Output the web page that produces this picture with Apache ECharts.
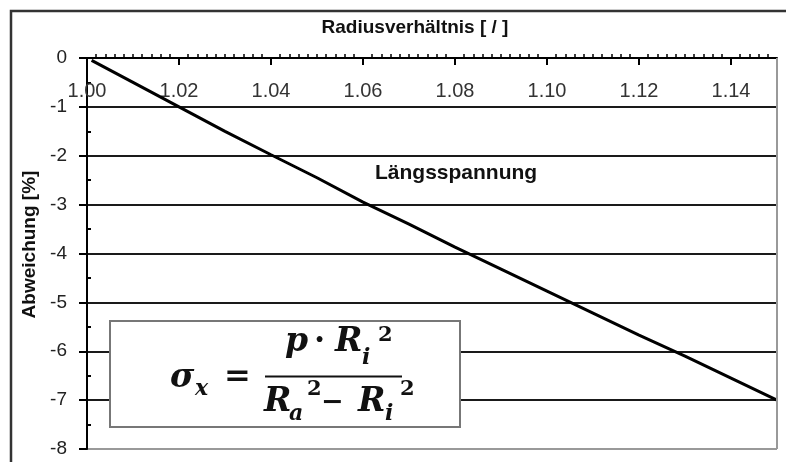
<!DOCTYPE html>
<html><head><meta charset="utf-8">
<script src="https://cdn.jsdelivr.net/npm/echarts@6/dist/echarts.min.js"></script>
<style>html,body{margin:0;padding:0;background:#fff}#c{width:786px;height:462px}</style>
</head><body><div id="c"></div>
<script>
// ---- data ----
const radiusRatio = [1.001, 1.01, 1.02, 1.03, 1.04, 1.05, 1.06, 1.07, 1.08, 1.09, 1.10, 1.11, 1.12, 1.13, 1.14, 1.15];
const deviation   = [-0.05, -0.5, -1.0, -1.5, -1.98, -2.45, -2.95, -3.4, -3.87, -4.32, -4.77, -5.22, -5.67, -6.1, -6.55, -7.0];
const xTickLabels = ['1.00','1.02','1.04','1.06','1.08','1.10','1.12','1.14'];
const yTickLabels = ['-8','-7','-6','-5','-4','-3','-2','-1','0'];
const xTitle = 'Radiusverhältnis [ / ]';
const yTitle = 'Abweichung [%]';
const seriesName = 'Längsspannung';

// ---- formula layout (text, left x, middle y, size, italic) ----
const formulaTokens = [
  ['σ',170,378,33,true], ['x',195,389,22,true], ['=',224,378,32,false],
  ['p',285,342,33,true], ['·',314,342,32,false], ['R',335,342,33,true], ['i',362,358,22,true], ['2',378,336,21,false],
  ['R',264,402,33,true], ['a',289,414,22,true], ['2',307,390,21,false], ['−',321,403,27,false],
  ['R',358,402,33,true], ['i',385,414,22,true], ['2',400,390,21,false]
];

const data = radiusRatio.map((x, i) => [x, deviation[i]]);
const sans = 'Liberation Sans, Arial, sans-serif';

const graphics = [
  {type:'rect', z:100, shape:{x:11,y:11,width:790,height:470}, style:{fill:'none', stroke:'#333', lineWidth:2.5}},
  {type:'rect', z:100, shape:{x:110,y:321,width:350,height:106}, style:{fill:'#fff', stroke:'#777', lineWidth:2}},
  {type:'line', z:101, shape:{x1:265,y1:376.5,x2:402,y2:376.5}, style:{stroke:'#111', lineWidth:2}},
  {type:'text', z:101, x:375, y:173, style:{text:seriesName, fontSize:21, fontWeight:'bold', fontFamily:sans, fill:'#111', align:'left', verticalAlign:'middle'}}
];
formulaTokens.forEach(t => {
  graphics.push({type:'text', z:101, x:t[1], y:t[2], style:{
    text:t[0], fontSize:t[3], fontWeight:'bold', fontStyle:t[4]?'italic':'normal',
    fontFamily:'DejaVu Serif, serif', fill:'#111', align:'left', verticalAlign:'middle'}});
});

const chart = echarts.init(document.getElementById('c'), null, {renderer:'canvas'});
chart.setOption({
  animation:false,
  backgroundColor:'#fff',
  grid:{left:87, right:9, top:58, bottom:13, containLabel:false},
  xAxis:{
    type:'value', position:'top', min:1.0, max:1.15, interval:0.02,
    name:xTitle, nameLocation:'middle', nameGap:21,
    nameTextStyle:{fontSize:19, fontWeight:'bold', fontFamily:sans, color:'#111', padding:[0,34,0,0]},
    axisLine:{show:true, onZero:false, lineStyle:{color:'#000', width:2}},
    axisTick:{show:true, inside:true, length:7, lineStyle:{color:'#000', width:2}},
    minorTick:{show:true, splitNumber:10, length:-4, lineStyle:{color:'#000', width:1.5}},
    axisLabel:{inside:true, margin:23, fontSize:20, fontFamily:sans, color:'#333', showMaxLabel:false,
      formatter:v => { const k = Math.round((v - 1.0) / 0.02); return xTickLabels[k] !== undefined && Math.abs(v - (1 + k*0.02)) < 1e-6 ? xTickLabels[k] : ''; }},
    splitLine:{show:false}
  },
  yAxis:{
    type:'value', min:-8, max:0, interval:1,
    name:yTitle, nameLocation:'middle', nameGap:46,
    nameTextStyle:{fontSize:19, fontWeight:'bold', fontFamily:sans, color:'#111', padding:[0,0,0,18]},
    axisLine:{show:true, onZero:false, lineStyle:{color:'#000', width:2}},
    axisTick:{show:true, inside:false, length:8, lineStyle:{color:'#000', width:2}},
    minorTick:{show:true, splitNumber:2, length:-4, lineStyle:{color:'#000', width:2}},
    axisLabel:{margin:20, fontSize:19, fontFamily:sans, color:'#222',
      formatter:v => yTickLabels[Math.round(v) + 8]},
    splitLine:{show:true, lineStyle:{color:['#999','#1a1a1a','#1a1a1a','#1a1a1a','#1a1a1a','#1a1a1a','#1a1a1a','#1a1a1a','#1a1a1a'], width:2}}
  },
  series:[{
    name:seriesName, type:'line', data:data, symbol:'none', smooth:false, z:5,
    lineStyle:{color:'#000', width:3}
  }],
  graphic:graphics
});
// right border of plot area
const p0 = chart.convertToPixel({gridIndex:0}, [1.15, 0]);
const p1 = chart.convertToPixel({gridIndex:0}, [1.15, -8]);
chart.setOption({graphic:graphics.concat([{type:'line', z:99, shape:{x1:p0[0],y1:p0[1],x2:p1[0],y2:p1[1]}, style:{stroke:'#999', lineWidth:2}}])});
</script>
</body></html>
